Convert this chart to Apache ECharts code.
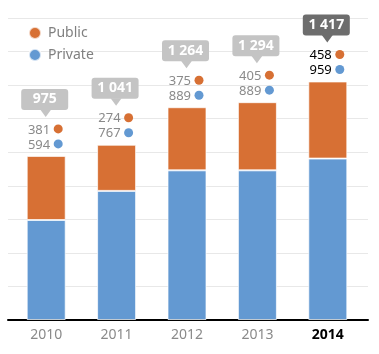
<!DOCTYPE html>
<html><head><meta charset="utf-8">
<script src="https://cdn.jsdelivr.net/npm/echarts@6/dist/echarts.min.js"></script>
<style>html,body{margin:0;padding:0;background:#fff}#c{width:379px;height:354px}</style>
</head><body><div id="c"></div>
<script>
var years = ['2010', '2011', '2012', '2013', '2014'];
var privateVals = [594, 767, 889, 889, 959];
var publicVals = [381, 274, 375, 405, 458];
var totalLabels = ['975', '1 041', '1 264', '1 294', '1 417'];
var yTicks = { min: 0, max: 1800, interval: 200 };

var ORANGE = '#d77034', BLUE = '#6399d2';
var FONT = '"Noto Sans", "Open Sans", sans-serif';
var last = years.length - 1;

var labelData = years.map(function (y, i) {
  return [i, privateVals[i] + publicVals[i], publicVals[i], privateVals[i], totalLabels[i]];
});

var chart = echarts.init(document.getElementById('c'));
chart.setOption({
  animation: false,
  textStyle: { fontFamily: FONT },
  legend: {
    data: ['Public', 'Private'], orient: 'vertical', left: 23, top: 21,
    icon: 'circle', itemWidth: 12, itemHeight: 12, itemGap: 8,
    textStyle: { color: '#808080', fontSize: 14, fontFamily: FONT, padding: [0, 0, 0, 2] }
  },
  grid: [
    { left: 11, right: 16, top: 17, bottom: 34 },
    { left: 8, right: 11, top: 18, bottom: 34 }
  ],
  xAxis: [
    { type: 'category', data: years, gridIndex: 0,
      axisLine: { show: false }, axisTick: { show: false },
      axisLabel: { interval: 0, margin: 8, fontSize: 14, color: '#8a8a8a', fontFamily: FONT,
        formatter: function (v, i) { return i === last ? '{b|' + v + '}' : v; },
        rich: { b: { fontWeight: 'bold', color: '#000', fontSize: 14, fontFamily: FONT } } } },
    { type: 'value', gridIndex: 1, min: 0, max: 1, show: true,
      axisLine: { show: true, lineStyle: { color: '#000', width: 2 } },
      axisTick: { show: false }, axisLabel: { show: false }, splitLine: { show: false } }
  ],
  yAxis: [
    { type: 'value', gridIndex: 0, min: yTicks.min, max: yTicks.max, interval: yTicks.interval,
      axisLabel: { show: false }, axisLine: { show: false }, axisTick: { show: false }, splitLine: { show: false } },
    { type: 'value', gridIndex: 1, min: yTicks.min, max: yTicks.max, interval: yTicks.interval,
      axisLabel: { show: false }, axisLine: { show: false }, axisTick: { show: false },
      splitLine: { show: true, lineStyle: { color: '#e8e8e8', width: 1 } } }
  ],
  series: [
    { name: 'Private', type: 'bar', stack: 't', data: privateVals, barWidth: 39, z: 3,
      itemStyle: { color: BLUE, borderColor: 'rgba(255,255,255,0.7)', borderWidth: 1 } },
    { name: 'Public', type: 'bar', stack: 't', data: publicVals, barWidth: 39, z: 3,
      itemStyle: { color: ORANGE, borderColor: 'rgba(255,255,255,0.7)', borderWidth: 1 } },
    { type: 'custom', data: labelData, encode: { x: 0, y: 1 }, z: 5, clip: false,
      silent: true,
      renderItem: function (params, api) {
        var i = api.value(0);
        var p = api.coord([i, api.value(1)]);
        var cx = p[0], top = p[1];
        var isLast = i === last;
        var boxColor = isLast ? '#6d6d6d' : '#c4c4c4';
        var txtColor = isLast ? '#000' : '#8a8a8a';
        var lbl = labelData[i][4];
        return { type: 'group', children: [
          { type: 'rect', shape: { x: cx - 25, y: top - 67, width: 47, height: 21, r: 3 },
            style: { fill: boxColor } },
          { type: 'polygon', shape: { points: [[cx - 6, top - 46.5], [cx + 5, top - 46.5], [cx - 0.5, top - 39]] },
            style: { fill: boxColor } },
          { type: 'text', style: { x: cx - 1.5, y: top - 56.5, text: lbl, fill: '#fff',
            font: 'bold 14px ' + FONT, align: 'center', verticalAlign: 'middle' } },
          { type: 'text', style: { x: cx + 4, y: top - 26, text: String(api.value(2)), fill: txtColor,
            font: '13px ' + FONT, align: 'right', verticalAlign: 'middle' } },
          { type: 'circle', shape: { cx: cx + 12, cy: top - 27, r: 4.5 }, style: { fill: ORANGE } },
          { type: 'text', style: { x: cx + 4, y: top - 11, text: String(api.value(3)), fill: txtColor,
            font: '13px ' + FONT, align: 'right', verticalAlign: 'middle' } },
          { type: 'circle', shape: { cx: cx + 12, cy: top - 12, r: 4.5 }, style: { fill: BLUE } }
        ] };
      }
    }
  ]
});
</script></body></html>
